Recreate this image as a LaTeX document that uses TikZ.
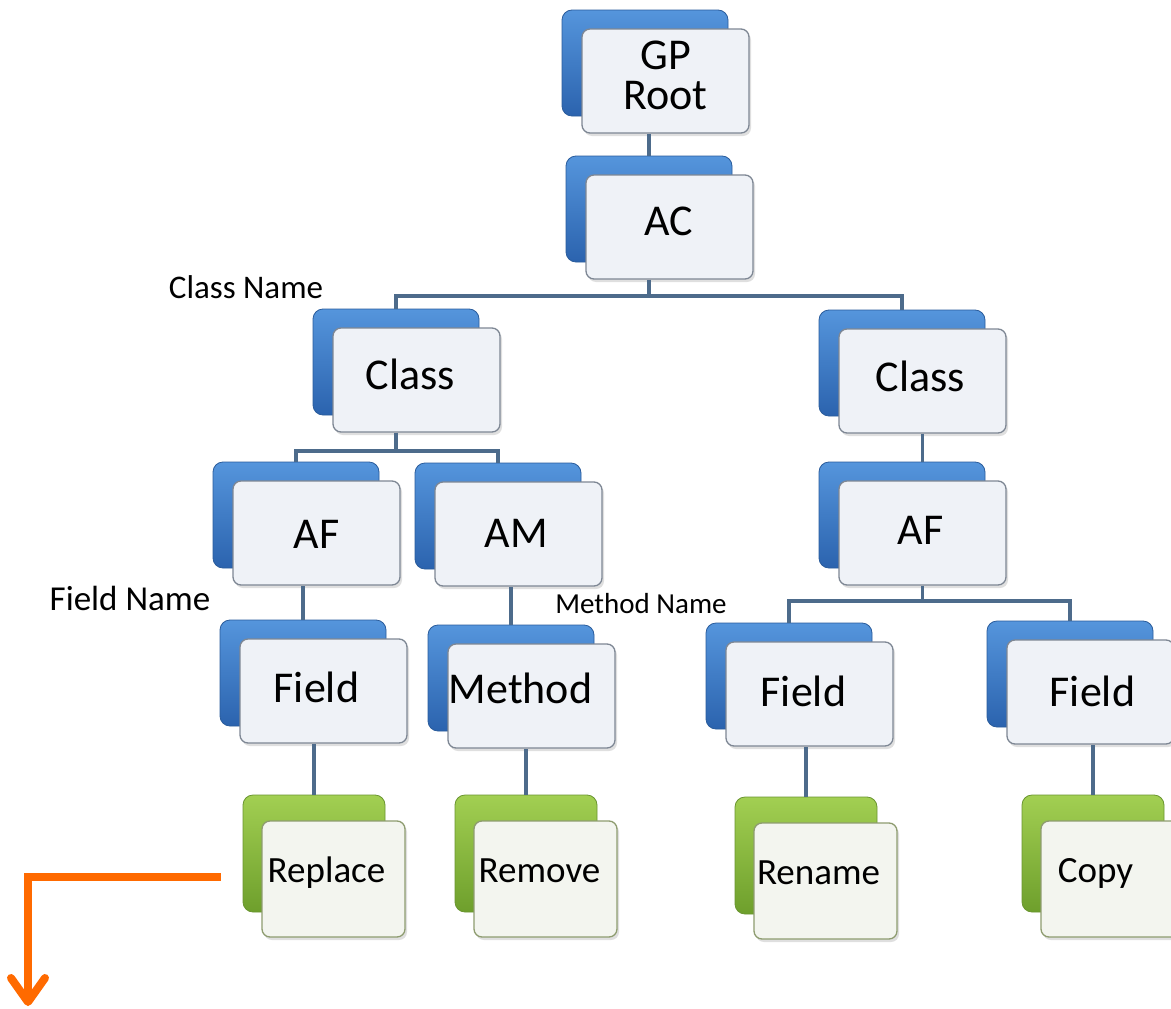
\documentclass[tikz,border=0pt]{standalone}
\usepackage{fontspec}
\setmainfont{Carlito}
\usetikzlibrary{arrows.meta,shadows,calc}
\definecolor{bluetop}{HTML}{5595DC}
\definecolor{bluebot}{HTML}{2B63AE}
\definecolor{blueedge}{HTML}{2A5C9C}
\definecolor{frontfill}{HTML}{EFF2F7}
\definecolor{frontedge}{HTML}{7E8794}
\definecolor{greentop}{HTML}{A2CF52}
\definecolor{greenbot}{HTML}{6E9F2C}
\definecolor{greenedge}{HTML}{6A9530}
\definecolor{gfrontfill}{HTML}{F3F5EF}
\definecolor{gfrontedge}{HTML}{8E9C70}
\definecolor{connc}{HTML}{4D6B8B}
\definecolor{orangec}{HTML}{FF6A00}
\tikzset{
  bback/.style={rectangle, rounded corners=10pt, minimum width=166pt, minimum height=106pt,
    inner sep=0pt, top color=bluetop, bottom color=bluebot, draw=blueedge, line width=0.8pt},
  bfront/.style={rectangle, rounded corners=8pt, minimum width=167pt, minimum height=104pt,
    inner sep=0pt, fill=frontfill, draw=frontedge, line width=1.3pt, align=center,
    font=\fontsize{44}{38}\selectfont,
    drop shadow={shadow xshift=2pt, shadow yshift=-3pt, opacity=0.25}},
  gback/.style={rectangle, rounded corners=10pt, minimum width=142pt, minimum height=117pt,
    inner sep=0pt, top color=greentop, bottom color=greenbot, draw=greenedge, line width=0.8pt},
  gfront/.style={rectangle, rounded corners=8pt, minimum width=143pt, minimum height=116pt,
    inner sep=0pt, fill=gfrontfill, draw=gfrontedge, line width=1.3pt,
    font=\fontsize{37}{40}\selectfont,
    drop shadow={shadow xshift=2pt, shadow yshift=-3pt, opacity=0.25}},
  conn/.style={draw=connc, line width=3.8pt},
  oarrow/.style={draw=orangec, line width=8pt, line join=miter,
    -{Straight Barb[length=24pt, width=34pt, line cap=round, line join=round]}},
  lbl/.style={inner sep=0pt, anchor=center}
}
% #1 name, #2 left, #3 top, #4 text, #5 text x shift, #6 baseline offset below centre
\newcommand\bluepair[6]{%
  \node[bback] (#1b) at ({#2+83}, {#3+53}) {};
  \node[bfront] (#1) at ({#2+103.5}, {#3+71})
    {\makebox[0pt][c]{\kern#5pt\raisebox{-#6pt}[0pt][0pt]{#4}\kern-#5pt}};
}
\newcommand\greenpair[5]{%
  \node[gback] (#1b) at ({#2+71}, {#3+58.5}) {};
  \node[gfront] (#1) at ({#2+90.5}, {#3+84})
    {\makebox[0pt][c]{\kern#5pt\raisebox{-3pt}[0pt][0pt]{#4}\kern-#5pt}};
}
\begin{document}
\begin{tikzpicture}[x=1pt, y=-1pt]
\fill[white] (0,0) rectangle (1171,1009);
\useasboundingbox (0,0) rectangle (1171,1009);
\clip (0,0) rectangle (1171,1009);

\node[bback] (GPb) at (645,63) {};
\node[bfront] (GP) at (665.5,81)
  {\raisebox{10pt}{\begin{tabular}{@{}c@{}}GP\\Root\end{tabular}}};

\bluepair{AC}{566}{156}{AC}{-1}{8}
\bluepair{CL}{313}{309}{Class}{-6}{9}
\bluepair{CR}{819}{310}{Class}{-2}{10}
\bluepair{AFL}{213}{462}{AF}{0}{15}
\bluepair{AM}{415}{463}{AM}{-2}{13}
\bluepair{AFR}{819}{462}{AF}{-2}{11}
\bluepair{FL}{220}{620}{Field}{-7}{11}
\bluepair{ME}{428}{625}{Method}{-11}{7}
\bluepair{FM}{706}{623}{Field}{-6}{12}
\bluepair{FR}{987}{621}{Field}{2}{14}

\greenpair{RP}{243}{795}{Replace}{-7}
\greenpair{RM}{455}{795}{Remove}{-6}
\greenpair{RN}{735}{797}{Rename}{-7}
\greenpair{CP}{1022}{795}{Copy}{-17}

% connectors
\draw[conn] (ACb.north) -- (ACb.north |- GP.south);
\draw[conn] (ACb.south |- AC.south) -- ++(0,16) coordinate (j1);
\draw[conn] (CLb.north) |- (j1) -| (CRb.north);
\draw[conn] (CLb.south |- CL.south) -- ++(0,18) coordinate (j2);
\draw[conn] (AFLb.north) |- (j2) -| (AMb.north);
\draw[conn] (CR.south) -- (CR.south |- AFRb.north);
\draw[conn] (AFR.south) -- ++(0,15) coordinate (j3);
\draw[conn] (FMb.north) |- (j3) -| (FRb.north);
\draw[conn] (FLb.north) -- (FLb.north |- AFL.south);
\draw[conn] (MEb.north) -- (MEb.north |- AM.south);
\draw[conn] (RPb.north) -- (RPb.north |- FL.south);
\draw[conn] (RMb.north) -- (RMb.north |- ME.south);
\draw[conn] (RNb.north) -- (RNb.north |- FM.south);
\draw[conn] (CPb.north) -- (CPb.north |- FR.south);

% labels
\node[lbl, font=\fontsize{33}{36}\selectfont] (lclass) at (246,287) {Class Name};
\node[lbl, font=\fontsize{35}{38}\selectfont] (lfield) at (130,598) {Field Name};
\node[lbl, font=\fontsize{29}{32}\selectfont] (lmethod) at (641,604) {Method Name};

% orange arrow
\coordinate (oend) at (28,1006);
\draw[oarrow] ([xshift=-22pt, yshift=-23pt]RPb.west) -| (oend);
\end{tikzpicture}
\end{document}
